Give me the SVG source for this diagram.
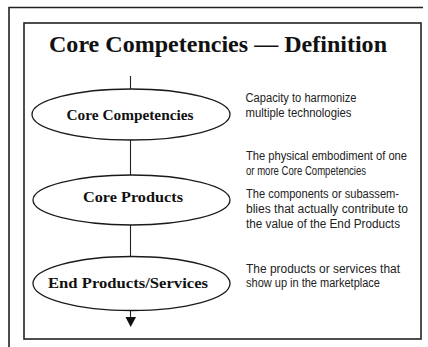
<svg xmlns="http://www.w3.org/2000/svg" width="428" height="347" viewBox="0 0 428 347">
  <style>
    .frame { fill: none; stroke: #222; stroke-width: 1.6; }
    .node ellipse { fill: #fff; stroke: #1a1a1a; stroke-width: 1.3; }
    .node text { font-family: "Liberation Serif", "DejaVu Serif", serif; font-weight: bold; font-size: 15px; fill: #111; text-anchor: middle; }
    .title { font-family: "Liberation Serif", "DejaVu Serif", serif; font-weight: bold; font-size: 23px; fill: #111; text-anchor: middle; }
    .note { font-family: "Liberation Sans", "Arimo", sans-serif; font-size: 12.5px; fill: #222; }
    .link { stroke: #222; stroke-width: 1.1; fill: none; }
  </style>
  <rect width="428" height="347" fill="#fff"/>

  <!-- outer frame: top and left edges only -->
  <path class="frame" d="M9,347 V7.5 H423"/>
  <!-- inner panel -->
  <rect class="frame" x="24" y="23" width="397" height="316"/>

  <text class="title" x="218" y="52" textLength="338" lengthAdjust="spacingAndGlyphs">Core Competencies — Definition</text>

  <g id="connectors">
    <line class="link" x1="130.5" y1="76" x2="130.5" y2="89"/>
    <line class="link" x1="130.5" y1="140" x2="130.5" y2="175"/>
    <line class="link" x1="130.5" y1="225" x2="130.5" y2="257"/>
    <line class="link" x1="130.5" y1="310" x2="130.5" y2="318"/>
    <polygon points="125.5,317 136,317 130.7,327" fill="#111"/>
  </g>

  <g id="core-competencies" class="node">
    <ellipse cx="131" cy="114.5" rx="99" ry="25.5"/>
    <text x="130" y="120" textLength="127" lengthAdjust="spacingAndGlyphs">Core Competencies</text>
  </g>
  <g id="core-products" class="node">
    <ellipse cx="131.5" cy="200" rx="98.5" ry="25"/>
    <text x="133" y="202" textLength="100" lengthAdjust="spacingAndGlyphs">Core Products</text>
  </g>
  <g id="end-products" class="node">
    <ellipse cx="131.5" cy="283.5" rx="98.5" ry="27"/>
    <text x="128" y="288" textLength="160" lengthAdjust="spacingAndGlyphs">End Products/Services</text>
  </g>

  <g id="notes" class="note">
    <text x="245.5" y="102" textLength="111" lengthAdjust="spacingAndGlyphs">Capacity to harmonize</text>
    <text x="245.5" y="116.5" textLength="106" lengthAdjust="spacingAndGlyphs">multiple technologies</text>
    <text x="246" y="160" textLength="161" lengthAdjust="spacingAndGlyphs">The physical embodiment of one</text>
    <text x="246" y="174.5" textLength="120" lengthAdjust="spacingAndGlyphs">or more Core Competencies</text>
    <text x="246" y="198" textLength="153" lengthAdjust="spacingAndGlyphs">The components or subassem-</text>
    <text x="246" y="213" textLength="162" lengthAdjust="spacingAndGlyphs">blies that actually contribute to</text>
    <text x="246" y="227.5" textLength="154" lengthAdjust="spacingAndGlyphs">the value of the End Products</text>
    <text x="246" y="272.5" textLength="154" lengthAdjust="spacingAndGlyphs">The products or services that</text>
    <text x="246" y="287" textLength="134" lengthAdjust="spacingAndGlyphs">show up in the marketplace</text>
  </g>
</svg>
